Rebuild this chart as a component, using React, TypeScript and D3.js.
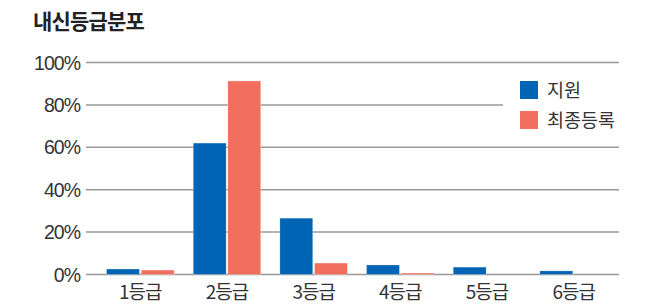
import React from 'react';
import * as d3 from 'd3';

// data
const categories = ['1등급', '2등급', '3등급', '4등급', '5등급', '6등급'];
const seriesNames = ['지원', '최종등록'];
const applied = [2.6, 62, 26.6, 4.5, 3.5, 1.7];
const enrolled = [2.1, 91.3, 5.4, 0.7, 0, 0];
const yTicks = [0, 20, 40, 60, 80, 100];
const colors = ['#0064b4', '#f26e5f'];

const W = 645, H = 306;
const font = '"Liberation Sans", Arial, sans-serif';
const kr = '"Noto Sans CJK KR", sans-serif';

export default function App() {
  const x = d3.scaleBand().domain(categories).range([97, 617]).paddingInner(0.22).paddingOuter(0.11);
  const inner = d3.scaleBand().domain(seriesNames).range([0, x.bandwidth()]).paddingInner(0.05);
  const y = d3.scaleLinear().domain([0, 100]).range([274.5, 62.5]);
  const series = [applied, enrolled];

  return (
    <svg width={W} height={H} style={{ position: 'absolute', left: 0, top: 0, background: '#fff' }}>
      <text x={33} y={29} fontFamily={kr} fontWeight={700} fontSize={21} fill="#222" letterSpacing={-0.8}>
        내신등급분포
      </text>
      {yTicks.map(t => (
        <g key={t}>
          <line x1={86} x2={619} y1={y(t)} y2={y(t)} stroke="#999" strokeWidth={1.5} />
          <text x={80} y={y(t) + 7} textAnchor="end" fontFamily={font} fontSize={19.5} fill="#333" letterSpacing={-1}>
            {t}%
          </text>
        </g>
      ))}
      {/* legend box hides grid under it */}
      <rect x={503} y={72} width={116} height={68} fill="#fff" />
      {seriesNames.map((s, i) => (
        <g key={s} transform={`translate(520, ${81 + i * 30})`}>
          <rect width={18} height={18} fill={colors[i]} />
          <text x={27} y={15.5} fontFamily={kr} fontSize={18.5} fill="#333">{s}</text>
        </g>
      ))}
      {categories.map((c, ci) => (
        <g key={c} transform={`translate(${x(c)}, 0)`}>
          {seriesNames.map((s, si) => {
            const v = series[si][ci];
            if (v <= 0) return null;
            return (
              <rect key={s} x={inner(s)} y={y(v)} width={inner.bandwidth()} height={y(0) - y(v)}
                fill={colors[si]} stroke="#fff" strokeOpacity={0.6} strokeWidth={0.5} />
            );
          })}
          <text x={x.bandwidth() / 2} y={299} textAnchor="middle" fontFamily={kr} fontSize={19} fill="#333" letterSpacing={-1}>
            {c}
          </text>
        </g>
      ))}
    </svg>
  );
}
